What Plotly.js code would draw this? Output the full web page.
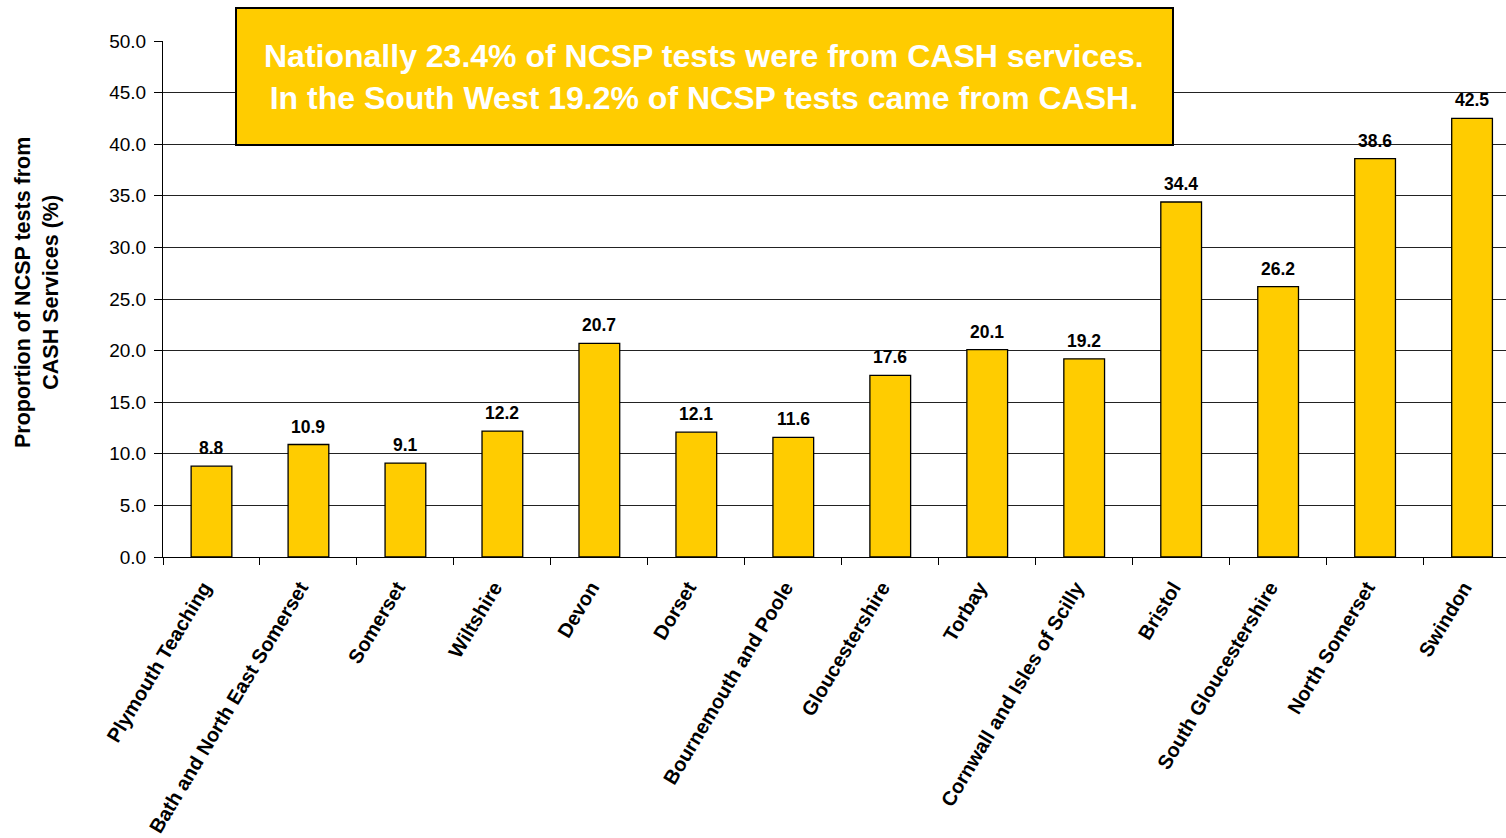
<!DOCTYPE html>
<html>
<head>
<meta charset="utf-8">
<script src="https://cdn.plot.ly/plotly-3.0.1.min.js"></script>
<style>html,body{margin:0;padding:0;background:#fff;}#chart{width:1506px;height:838px;}</style>
</head>
<body>
<div id="chart"></div>
<script>
const categories = ["Plymouth Teaching","Bath and North East Somerset","Somerset","Wiltshire","Devon","Dorset","Bournemouth and Poole","Gloucestershire","Torbay","Cornwall and Isles of Scilly","Bristol","South Gloucestershire","North Somerset","Swindon"];
const values = [8.8,10.9,9.1,12.2,20.7,12.1,11.6,17.6,20.1,19.2,34.4,26.2,38.6,42.5];
const yTicks = [0,5,10,15,20,25,30,35,40,45,50];
const boxText = "Nationally 23.4% of NCSP tests were from CASH services.<br>In the South West 19.2% of NCSP tests came from CASH.";
const yTitle = "Proportion of NCSP tests from<br>CASH Services (%)";

const FONT = "Liberation Sans, Arial, sans-serif";

const trace = {
  type: "bar",
  x: categories,
  y: values,
  marker: {color: "#FFCC00", line: {color: "#000000", width: 1.3}},
  hoverinfo: "none"
};

const labelAnns = categories.map((c, i) => ({
  x: c, y: values[i], xref: "x", yref: "y",
  text: values[i].toFixed(1), showarrow: false,
  yanchor: "middle", yshift: 18,
  font: {family: FONT, size: 17.5, color: "#000", weight: "bold"}
}));

const layout = {
  width: 1506, height: 838,
  margin: {l: 163, r: 0, t: 41, b: 281},
  paper_bgcolor: "#ffffff", plot_bgcolor: "#ffffff",
  showlegend: false,
  bargap: 0.58,
  font: {family: FONT, color: "#000"},
  xaxis: {
    type: "category",
    range: [-0.5, 13.35],
    showline: true, linecolor: "#000", linewidth: 1,
    ticks: "outside", ticklen: 7, tickcolor: "#000", tickwidth: 1,
    tickson: "boundaries",
    tickangle: -59,
    ticklabelstandoff: 10,
    ticklabelshift: -8,
    tickfont: {family: FONT, size: 20, color: "#000", weight: "bold"},
    showgrid: false, automargin: false, fixedrange: true
  },
  yaxis: {
    range: [0, 50],
    tickvals: yTicks,
    ticktext: yTicks.map(v => v.toFixed(1)),
    showline: true, linecolor: "#000", linewidth: 1,
    ticks: "outside", ticklen: 8, tickcolor: "#000",
    ticklabelstandoff: 4,
    tickfont: {family: FONT, size: 19, color: "#000"},
    showgrid: true, gridcolor: "#222", gridwidth: 1,
    zeroline: false, automargin: false, fixedrange: true
  },
  shapes: [{
    type: "rect", xref: "paper", yref: "paper",
    x0: (236 - 163) / 1343, x1: (1173 - 163) / 1343,
    y0: (557 - 145) / 516, y1: (557 - 8) / 516,
    fillcolor: "#FFCC00", line: {color: "#000", width: 2}, layer: "above"
  }],
  annotations: labelAnns.concat([
    {
      xref: "paper", yref: "paper",
      x: (704 - 163) / 1343, y: (557 - 77) / 516,
      xanchor: "center", yanchor: "middle",
      text: boxText, showarrow: false, align: "center",
      font: {family: FONT, size: 32, color: "#ffffff", weight: "bold"}
    },
    {
      xref: "paper", yref: "paper",
      x: (37 - 163) / 1343, y: (557 - 293) / 516,
      xanchor: "center", yanchor: "middle",
      text: yTitle, showarrow: false, textangle: -90,
      font: {family: FONT, size: 21.5, color: "#000", weight: "bold"}
    }
  ])
};

Plotly.newPlot("chart", [trace], layout, {displayModeBar: false, staticPlot: true});
</script>
</body>
</html>
